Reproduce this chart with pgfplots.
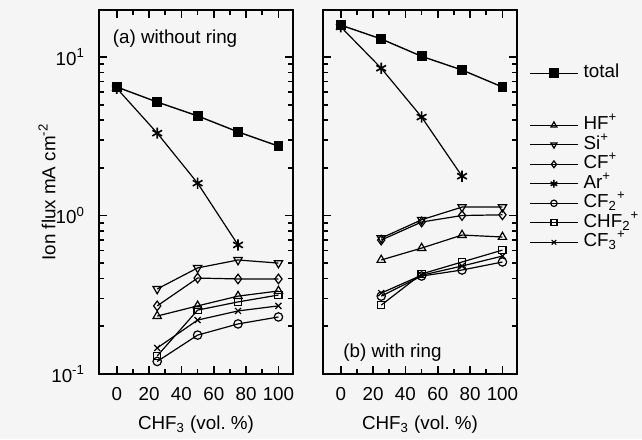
\documentclass[border=0pt]{standalone}
\usepackage{pgfplots}
\pgfplotsset{compat=1.18}
\usepackage{fontspec}
\setmainfont{Liberation Sans}
\newcommand\fs{\fontsize{9.4}{11}\selectfont}

\tikzset{
  pTot/.style={black, line width=0.7pt, mark=square*, mark size=2.1pt},
  pHF/.style={black, line width=0.6pt, mark=triangle, mark size=2.4pt, mark options={fill=white}},
  pSi/.style={black, line width=0.6pt, mark=triangle, mark size=2.4pt, mark options={fill=white, rotate=180}},
  pCF/.style={black, line width=0.6pt, mark=diamond, mark size=2.4pt, mark options={fill=white}},
  pAr/.style={black, line width=0.6pt, mark=asterisk, mark size=2.8pt, mark options={line width=0.8pt}},
  pCFtwo/.style={black, line width=0.6pt, mark=o, mark size=2.1pt, mark options={fill=white}},
  pCHF/.style={black, line width=0.6pt, mark=square, mark size=1.8pt, mark options={fill=white}},
  pCFthree/.style={black, line width=0.6pt, mark=x, mark size=2.1pt},
}

\pgfplotsset{
  every axis/.append style={
    scale only axis, width=97pt, height=182pt,
    xmin=-11, xmax=109, ymin=0.1, ymax=19.8,
    xtick={0,20,...,100}, minor x tick num=1,
    xtick pos=both, ytick pos=both,
    major tick length=4pt, minor tick length=2.6pt,
    tick align=inside,
    axis line style={line width=0.9pt},
    every tick/.style={black, line width=0.8pt},
    tick label style={font=\fs},
    label style={font=\fs},
    xlabel style={at={(axis description cs:0.5,0)}, anchor=center, yshift=-25.5pt},
    xticklabel style={yshift=-3pt},
    clip=false,
  },
}

\begin{document}
\begin{tikzpicture}
\path[use as bounding box, fill=black!4] (0,0) rectangle (321pt,219.5pt);

% (a) without ring
\begin{axis}[ymode=log, anchor=south west, at={(49.5pt,32.5pt)},
  ytick={0.1,1,10},
  minor ytick={0.2,0.3,0.4,0.5,0.6,0.7,0.8,0.9,2,3,4,5,6,7,8,9},
  /pgf/number format/assume math mode=true,
  yticklabels={10\textsuperscript{-1},10\textsuperscript{0},10\textsuperscript{1}},
  yticklabel style={xshift=-3.5pt},
  xlabel={CHF\textsubscript{3} (vol.\ \%)},
  ylabel={Ion flux mA cm\textsuperscript{-2}},
  ylabel style={at={(axis description cs:-0.268,0.5)}, anchor=center},
]
\addplot[pTot] coordinates {(0,6.47) (25,5.2) (50,4.25) (75,3.37) (100,2.74)};
\addplot[pAr] coordinates {(0,6.35) (25,3.31) (50,1.6) (75,0.652)};
\addplot[pSi] coordinates {(25,0.344) (50,0.467) (75,0.524) (100,0.501)};
\addplot[pCF] coordinates {(25,0.269) (50,0.403) (75,0.398) (100,0.398)};
\addplot[pHF] coordinates {(25,0.232) (50,0.269) (75,0.31) (100,0.334)};
\addplot[pCFthree] coordinates {(25,0.146) (50,0.219) (75,0.25) (100,0.269)};
\addplot[pCHF] coordinates {(25,0.13) (50,0.253) (75,0.285) (100,0.315)};
\addplot[pCFtwo] coordinates {(25,0.12) (50,0.176) (75,0.207) (100,0.229)};
\node[font=\fs] at (axis description cs:0.392,0.922) {(a) without ring};
\end{axis}

% (b) with ring
\begin{axis}[ymode=log, anchor=south west, at={(161.5pt,32.5pt)},
  ytick={0.1,1,10},
  minor ytick={0.2,0.3,0.4,0.5,0.6,0.7,0.8,0.9,2,3,4,5,6,7,8,9},
  /pgf/number format/assume math mode=true,
  yticklabels={},
  xlabel={CHF\textsubscript{3} (vol.\ \%)},
  legend style={at={(axis description cs:1.061,0.854)}, anchor=north west,
    draw=none, fill=none, inner sep=0pt, row sep=0pt, column sep=2.5pt,
    nodes={inner sep=0pt, text height=7pt, text depth=2.75pt, font=\fs}},
  legend cell align=left,
  legend image code/.code={\draw[mark repeat=2, mark phase=2, #1]
    plot coordinates {(0pt,0pt) (12pt,0pt) (24pt,0pt)};},
]
\addplot[pTot, forget plot] coordinates {(0,15.9) (25,13.0) (50,10.1) (75,8.28) (100,6.47)};
\addplot[pAr, forget plot] coordinates {(0,15.5) (25,8.5) (50,4.18) (75,1.77)};
\addplot[pSi, forget plot] coordinates {(25,0.72) (50,0.94) (75,1.13) (100,1.13)};
\addplot[pCF, forget plot] coordinates {(25,0.70) (50,0.91) (75,1.0) (100,1.01)};
\addplot[pHF, forget plot] coordinates {(25,0.524) (50,0.623) (75,0.753) (100,0.732)};
\addplot[pCFthree, forget plot] coordinates {(25,0.324) (50,0.42) (75,0.48) (100,0.555)};
\addplot[pCHF, forget plot] coordinates {(25,0.272) (50,0.428) (75,0.509) (100,0.605)};
\addplot[pCFtwo, forget plot] coordinates {(25,0.31) (50,0.415) (75,0.453) (100,0.509)};
\node[font=\fs] at (axis description cs:0.358,0.059) {(b) with ring};

\addlegendimage{pTot}\addlegendentry{total}
\addlegendimage{empty legend}\addlegendentry[text depth=9.25pt]{}
\addlegendimage{pHF, mark size=1.7pt}\addlegendentry{HF\textsuperscript{+}}
\addlegendimage{pSi, mark size=1.7pt}\addlegendentry{Si\textsuperscript{+}}
\addlegendimage{pCF, mark size=1.7pt}\addlegendentry{CF\textsuperscript{+}}
\addlegendimage{pAr, mark size=1.9pt}\addlegendentry{Ar\textsuperscript{+}}
\addlegendimage{pCFtwo, mark size=1.6pt}\addlegendentry{CF\textsubscript{2}\textsuperscript{+}}
\addlegendimage{pCHF, mark size=1.5pt}\addlegendentry{CHF\textsubscript{2}\textsuperscript{+}}
\addlegendimage{pCFthree, mark size=1.6pt}\addlegendentry{CF\textsubscript{3}\textsuperscript{+}}
\end{axis}
\end{tikzpicture}
\end{document}
